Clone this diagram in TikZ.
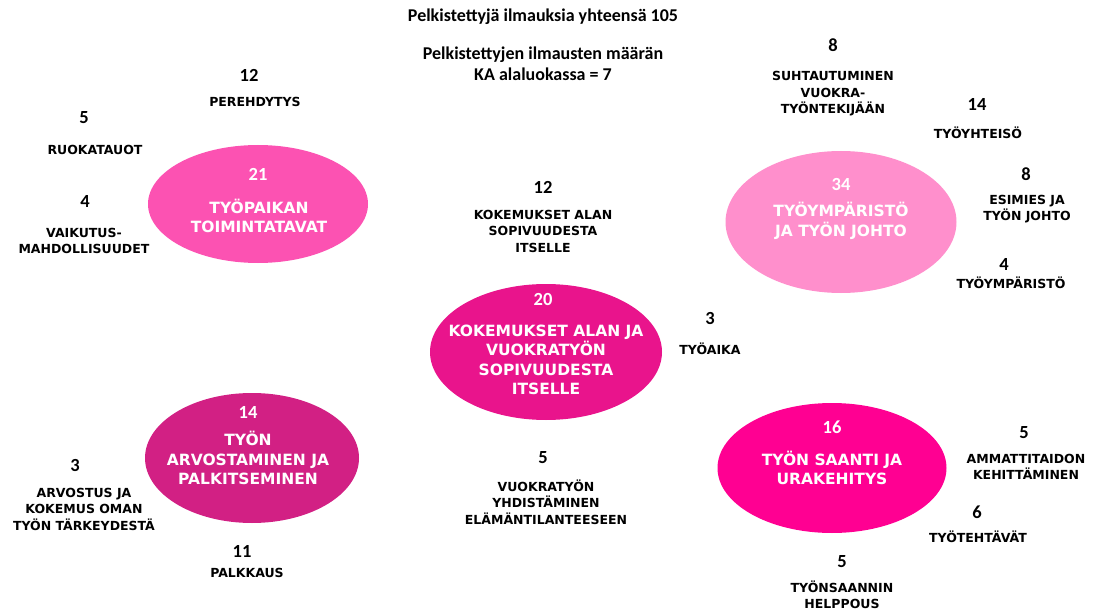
\documentclass[tikz,border=0pt]{standalone}
\usepackage{fontspec}
\setmainfont{DejaVu Sans}
\newfontfamily\calfont{Carlito}
\usetikzlibrary{shapes.geometric}

\definecolor{cPink}{RGB}{252,82,178}
\definecolor{cLight}{RGB}{255,143,204}
\definecolor{cMid}{RGB}{233,20,140}
\definecolor{cPlum}{RGB}{210,32,132}
\definecolor{cHot}{RGB}{255,0,146}

\tikzset{
  bubble/.style={ellipse, draw=none, inner sep=0pt},
  num/.style={font=\calfont\bfseries\fontsize{18.5}{18.5}\selectfont, text=black, inner sep=0pt},
  wnum/.style={num, text=white},
  lab/.style={font=\bfseries\fontsize{12.5}{16.5}\selectfont, align=center, inner sep=0pt},
  wlab/.style={font=\bfseries\fontsize{15.5}{19.5}\selectfont, align=center, inner sep=0pt, text=white},
  head/.style={font=\calfont\bfseries\fontsize{18}{21}\selectfont, align=center, inner sep=0pt}
}

\begin{document}
\begin{tikzpicture}[x=1pt, y=-1pt]
\useasboundingbox (0,0) rectangle (1104,615);

% headings
\node[head] (h1) at (543,17) {Pelkistettyjä ilmauksia yhteensä 105};
\node[head] (h2) at (543,64) {Pelkistettyjen ilmausten määrän\\KA alaluokassa = 7};

% category bubbles
\node[bubble, fill=cPink, minimum width=220pt, minimum height=118pt] (e1) at (258,204) {};
\node[bubble, fill=cLight, minimum width=231pt, minimum height=142pt] (e2) at (841,222) {};
\node[bubble, fill=cMid, minimum width=232pt, minimum height=136pt] (e3) at (546,352) {};
\node[bubble, fill=cPlum, minimum width=214pt, minimum height=130pt] (e4) at (252,458) {};
\node[bubble, fill=cHot, minimum width=229pt, minimum height=130pt] (e5) at (832,468) {};

% bubble texts
\node[wnum] (n1) at (258,174) {21};
\node[wlab] (t1) at (259,216) {TYÖPAIKAN\\TOIMINTATAVAT};
\node[wnum] (n2) at (841,184) {34};
\node[wlab] (t2) at (841,221) {TYÖYMPÄRISTÖ\\JA TYÖN JOHTO};
\node[wnum] (n3) at (543,299) {20};
\node[wlab] (t3) at (546,360) {KOKEMUKSET ALAN JA\\VUOKRATYÖN\\SOPIVUUDESTA\\ITSELLE};
\node[wnum] (n4) at (248,412) {14};
\node[wlab] (t4) at (248,458) {TYÖN\\ARVOSTAMINEN JA\\PALKITSEMINEN};
\node[wnum] (n5) at (832,427) {16};
\node[wlab] (t5) at (832,468) {TYÖN SAANTI JA\\URAKEHITYS};

% subcategories
\node[num] (a1) at (249,75) {12};
\node[lab] (b1) at (255,102) {PEREHDYTYS};
\node[num] (a2) at (84,118) {5};
\node[lab] (b2) at (95,150) {RUOKATAUOT};
\node[num] (a3) at (85,201) {4};
\node[lab] (b3) at (84,241) {VAIKUTUS-\\MAHDOLLISUUDET};

\node[num] (a4) at (543,187) {12};
\node[lab] (b4) at (543,231) {KOKEMUKSET ALAN\\SOPIVUUDESTA\\ITSELLE};
\node[num] (a5) at (710,318) {3};
\node[lab] (b5) at (710,349) {TYÖAIKA};

\node[num] (a6) at (833,45) {8};
\node[lab] (b6) at (833,94) {SUHTAUTUMINEN\\VUOKRA-\\TYÖNTEKIJÄÄN};
\node[num] (a7) at (977,104) {14};
\node[lab] (b7) at (978,133) {TYÖYHTEISÖ};
\node[num] (a8) at (1026,174) {8};
\node[lab] (b8) at (1027,209) {ESIMIES JA\\TYÖN JOHTO};
\node[num] (a9) at (1004,264) {4};
\node[lab] (b9) at (1011,283) {TYÖYMPÄRISTÖ};

\node[num] (a10) at (75,465) {3};
\node[lab] (b10) at (84,509) {ARVOSTUS JA\\KOKEMUS OMAN\\TYÖN TÄRKEYDESTÄ};
\node[num] (a11) at (242,551) {11};
\node[lab] (b11) at (247,573) {PALKKAUS};
\node[num] (a12) at (543,458) {5};
\node[lab] (b12) at (546,502) {VUOKRATYÖN\\YHDISTÄMINEN\\ELÄMÄNTILANTEESEEN};

\node[num] (a13) at (1024,433) {5};
\node[lab] (b13) at (1026,467) {AMMATTITAIDON\\KEHITTÄMINEN};
\node[num] (a14) at (977,512) {6};
\node[lab] (b14) at (978,537) {TYÖTEHTÄVÄT};
\node[num] (a15) at (842,562) {5};
\node[lab] (b15) at (842,595) {TYÖNSAANNIN\\HELPPOUS};
\end{tikzpicture}
\end{document}
